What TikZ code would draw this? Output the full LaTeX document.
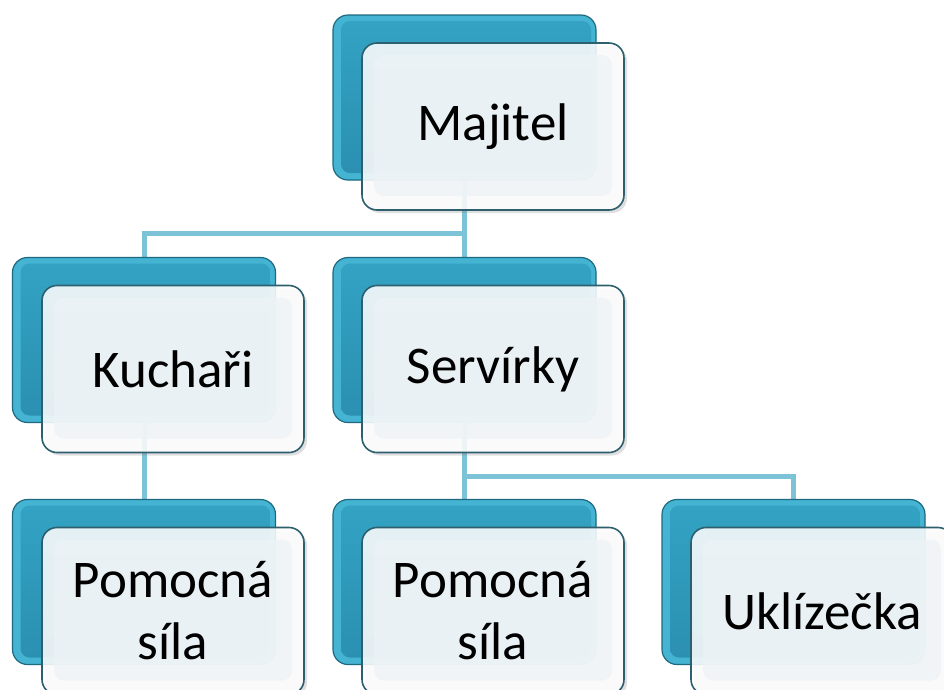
\documentclass[tikz,border=0pt]{standalone}
\usepackage{fontspec}
\setmainfont{Carlito}
\usetikzlibrary{shadows}
\definecolor{linkc}{HTML}{7CC3D8}
\definecolor{backtop}{HTML}{33A3C4}
\definecolor{backbot}{HTML}{2B8FB0}
\definecolor{backrim}{HTML}{45B4D3}
\definecolor{backline}{HTML}{1D6A80}
\definecolor{frontin}{HTML}{EDF3F7}
\definecolor{frontline}{HTML}{2D5F6E}
\tikzset{
  link/.style={draw=linkc, line width=5pt},
  backbox/.style={rectangle, rounded corners=15pt, minimum width=263pt, minimum height=165pt,
    draw=backline, line width=1.2pt, fill=backrim,
    path picture={\shade[top color=backtop, bottom color=backbot, rounded corners=9pt]
      ([shift={(8pt,-6pt)}]path picture bounding box.north west) rectangle
      ([shift={(-5pt,7pt)}]path picture bounding box.south east);}},
  frontbox/.style={rectangle, rounded corners=15pt, minimum width=262pt, minimum height=167pt,
    draw=frontline, line width=1.6pt, fill=white, fill opacity=0.86, text opacity=1,
    drop shadow={shadow xshift=3pt, shadow yshift=-3pt, opacity=0.25},
    align=center, font=\fontsize{53}{62}\selectfont,
    path picture={\fill[frontin, fill opacity=0.75, rounded corners=10pt]
      ([shift={(12pt,-12pt)}]path picture bounding box.north west) rectangle
      ([shift={(-12pt,14pt)}]path picture bounding box.south east);}},
}
\begin{document}
\begin{tikzpicture}[x=1pt,y=-1pt]
\clip (0,0) rectangle (944,689);
\fill[white] (0,0) rectangle (944,689);
% back box positions (connectors attach to their centres)
\coordinate (majC) at (464.5,97.5);
\coordinate (kucC) at (144,340);
\coordinate (serC) at (464.5,340);
\coordinate (po1C) at (144,582);
\coordinate (po2C) at (464.5,582);
\coordinate (uklC) at (793.5,582);
\coordinate (j1) at (464.5,233);
\coordinate (j2) at (464.5,476);
% connectors
\draw[link] (majC) -- (j1) -| (kucC);
\draw[link] (j1) -- (serC);
\draw[link] (kucC) -- (po1C);
\draw[link] (serC) -- (j2) -- (po2C);
\draw[link] (j2) -| (uklC);
% boxes
\node[backbox] (majB) at (majC) {};
\node[frontbox] (maj) at (493,126.5) {Majitel};
\node[backbox] (kucB) at (kucC) {};
\node[frontbox] (kuc) at (173,369) {Kuchaři};
\node[backbox] (serB) at (serC) {};
\node[frontbox] (ser) at (493,369) {Servírky};
\node[backbox] (po1B) at (po1C) {};
\node[frontbox] (po1) at (173,611) {Pomocná\\síla};
\node[backbox] (po2B) at (po2C) {};
\node[frontbox] (po2) at (493,611) {Pomocná\\síla};
\node[backbox] (uklB) at (uklC) {};
\node[frontbox] (ukl) at (822,611) {Uklízečka};
\end{tikzpicture}
\end{document}
